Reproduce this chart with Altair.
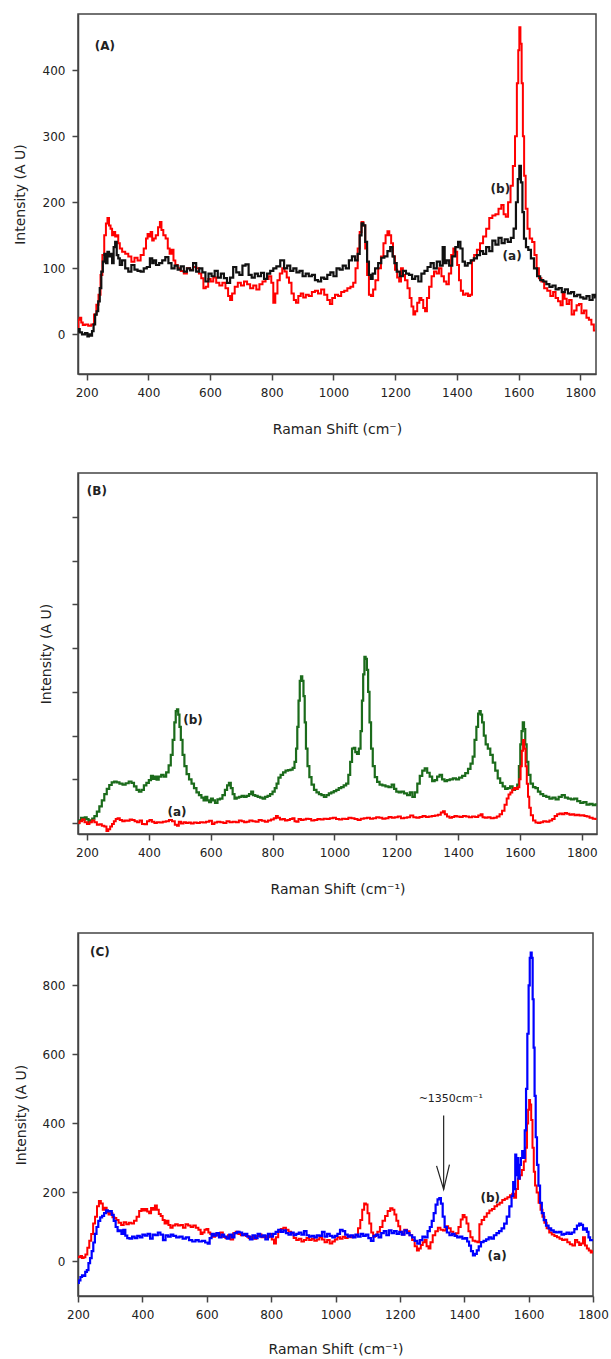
import altair as alt
import pandas as pd

FONT = "DejaVu Sans"

# ---------------- Panel A (Raman shift, intensity) ----------------
A_BLACK = [(172,5),(175,8),(180,3),(190,0),(200,2),(205,-3),(210,0),(215,-2),(220,5),(225,15),(230,30),(235,35),(240,50),(245,70),(250,95),(255,110),(260,122),(265,108),(270,125),(275,118),(280,122),(285,108),(290,132),(295,140),(300,120),(305,115),(310,105),(320,112),(330,100),(340,95),(350,105),(360,98),(370,96),(380,95),(390,100),(400,102),(410,115),(415,108),(420,112),(430,105),(440,108),(450,112),(460,117),(470,108),(480,100),(490,104),(500,98),(510,103),(520,95),(530,100),(540,97),(550,108),(560,95),(570,100),(580,94),(590,80),(600,92),(610,88),(620,96),(630,86),(640,92),(650,85),(660,78),(670,86),(680,102),(690,94),(700,90),(710,104),(720,106),(730,90),(740,86),(750,92),(760,88),(770,93),(780,84),(790,92),(800,96),(810,100),(820,103),(835,112),(845,100),(855,104),(865,96),(875,100),(885,94),(895,96),(905,88),(915,92),(925,88),(935,90),(945,82),(955,80),(965,86),(975,84),(985,90),(995,94),(1005,88),(1015,100),(1025,98),(1035,104),(1045,100),(1055,112),(1065,118),(1075,112),(1082,122),(1088,150),(1094,168),(1100,165),(1106,140),(1112,110),(1118,90),(1124,84),(1130,92),(1140,100),(1150,108),(1160,116),(1170,118),(1180,126),(1188,132),(1195,118),(1200,108),(1210,95),(1220,88),(1230,96),(1240,92),(1250,90),(1260,84),(1270,88),(1280,80),(1290,92),(1300,96),(1310,102),(1320,108),(1330,100),(1340,110),(1350,104),(1358,132),(1363,108),(1370,112),(1380,104),(1390,118),(1400,132),(1408,140),(1415,130),(1422,110),(1430,104),(1440,108),(1450,112),(1460,115),(1470,120),(1480,126),(1490,122),(1500,132),(1510,126),(1520,142),(1530,136),(1540,146),(1550,138),(1560,144),(1570,140),(1580,146),(1588,160),(1595,200),(1600,235),(1605,255),(1610,230),(1615,185),(1620,145),(1628,132),(1635,128),(1645,115),(1655,100),(1665,88),(1675,82),(1685,80),(1695,76),(1705,72),(1715,74),(1725,68),(1735,70),(1745,64),(1755,68),(1765,62),(1775,64),(1785,58),(1795,60),(1805,56),(1815,54),(1825,58),(1835,52),(1845,60),(1850,56)]

A_RED = [(172,10),(175,22),(180,25),(185,18),(190,14),(200,15),(210,13),(220,15),(228,30),(235,45),(242,60),(248,90),(254,120),(260,150),(265,168),(270,176),(275,165),(280,160),(285,150),(290,155),(295,148),(300,150),(305,138),(310,130),(320,125),(330,122),(340,118),(350,110),(360,116),(370,112),(380,120),(390,130),(395,145),(400,152),(405,148),(410,155),(415,142),(420,145),(428,150),(435,162),(440,170),(445,158),(452,150),(460,145),(466,130),(472,122),(478,128),(485,112),(490,105),(500,100),(510,96),(520,92),(530,100),(540,98),(550,102),(560,100),(568,92),(575,85),(582,70),(590,72),(598,84),(606,80),(615,86),(625,78),(635,74),(645,78),(655,70),(662,58),(668,52),(675,62),(685,72),(695,78),(705,74),(715,80),(725,76),(735,70),(745,74),(755,68),(765,76),(775,80),(785,84),(795,88),(802,78),(808,48),(815,62),(822,82),(830,92),(838,100),(845,95),(852,86),(860,78),(868,62),(875,52),(882,48),(890,58),(898,62),(906,56),(915,60),(925,58),(935,64),(945,66),(955,62),(965,68),(975,60),(985,52),(992,46),(1000,55),(1010,60),(1020,58),(1030,64),(1040,66),(1050,70),(1060,72),(1068,78),(1075,100),(1082,130),(1088,155),(1094,170),(1100,165),(1106,130),(1112,90),(1118,60),(1125,58),(1132,68),(1140,82),(1150,100),(1158,118),(1166,138),(1172,150),(1178,156),(1184,150),(1190,138),(1196,118),(1203,98),(1210,86),(1216,80),(1222,100),(1228,90),(1236,82),(1244,70),(1250,55),(1256,42),(1262,30),(1268,35),(1275,48),(1282,55),(1288,52),(1294,40),(1300,35),(1306,55),(1314,72),(1322,88),(1330,95),(1338,92),(1346,100),(1354,88),(1362,80),(1370,76),(1378,92),(1385,120),(1392,130),(1398,125),(1404,105),(1410,82),(1416,66),(1424,60),(1432,62),(1440,58),(1446,60),(1452,112),(1460,120),(1470,128),(1480,138),(1490,148),(1500,160),(1510,176),(1520,180),(1530,182),(1540,190),(1548,196),(1555,182),(1562,178),(1570,200),(1578,225),(1585,255),(1592,300),(1597,380),(1601,430),(1604,465),(1608,440),(1612,380),(1616,300),(1620,240),(1626,190),(1632,160),(1640,145),(1648,140),(1655,120),(1662,100),(1670,85),(1678,80),(1688,70),(1698,66),(1708,58),(1716,64),(1724,55),(1732,50),(1740,44),(1746,62),(1752,54),(1760,46),(1768,52),(1776,30),(1784,36),(1792,44),(1800,46),(1808,32),(1816,36),(1824,25),(1832,22),(1840,15),(1848,6)]

A_LABELS = ["(A)", "(b)", "(a)"]
A_LABEL_X = [259, 1541, 1579]
A_LABEL_Y = [436, 220, 119]

# ---------------- Panel B (arbitrary units, no tick labels) ----------------
B_GREEN = [(172,0),(178,60),(184,120),(190,80),(196,130),(202,90),(208,20),(214,60),(220,100),(228,160),(236,260),(244,380),(252,520),(260,660),(268,780),(276,870),(284,930),(292,950),(300,930),(310,900),(320,880),(330,910),(340,950),(348,920),(356,840),(364,760),(372,720),(380,760),(388,860),(396,920),(404,980),(410,1080),(416,1010),(422,1060),(428,990),(436,1060),(444,1100),(452,1060),(460,1160),(468,1320),(474,1560),(480,1900),(485,2300),(489,2560),(493,2600),(497,2480),(501,2200),(506,1900),(512,1560),(518,1300),(526,1120),(534,1000),(542,900),(550,800),(558,700),(566,640),(574,580),(580,520),(586,600),(592,520),(598,480),(604,560),(610,520),(618,460),(626,540),(634,560),(642,640),(650,760),(656,860),(662,920),(668,800),(674,660),(680,560),(688,580),(696,600),(704,620),(712,600),(720,620),(728,660),(734,720),(740,640),(748,620),(756,600),(764,580),(772,560),(780,600),(788,620),(796,660),(804,720),(810,800),(816,900),(822,1040),(830,1100),(838,1160),(846,1200),(854,1210),(862,1220),(868,1260),(874,1400),(878,1700),(882,2200),(886,2800),(890,3250),(894,3350),(898,3250),(902,2900),(906,2300),(910,1700),(916,1300),(922,1050),(930,880),(938,760),(946,700),(954,660),(962,640),(970,600),(978,640),(986,680),(994,700),(1002,730),(1010,760),(1018,800),(1026,820),(1034,860),(1042,900),(1048,1100),(1054,1400),(1060,1700),(1065,1720),(1070,1620),(1076,1580),(1082,1700),(1087,2100),(1091,2800),(1095,3400),(1099,3800),(1103,3750),(1107,3500),(1111,3000),(1116,2300),(1121,1700),(1127,1300),(1134,1050),(1142,940),(1150,880),(1160,860),(1170,840),(1180,820),(1190,880),(1196,780),(1204,720),(1212,700),(1220,720),(1230,680),(1240,640),(1248,700),(1256,600),(1264,700),(1272,900),(1280,1080),(1288,1200),(1296,1250),(1304,1150),(1312,1060),(1320,960),(1328,980),(1336,1060),(1344,1100),(1352,1000),(1360,960),(1368,980),(1378,1000),(1388,1020),(1398,1000),(1408,1040),(1418,1080),(1428,1140),(1436,1240),(1444,1360),(1450,1520),(1456,1900),(1462,2200),(1467,2500),(1471,2560),(1475,2480),(1480,2300),(1486,2000),(1492,1800),(1500,1700),(1508,1560),(1516,1380),(1524,1200),(1532,1020),(1540,920),(1548,840),(1556,780),(1564,800),(1572,840),(1580,760),(1588,780),(1594,880),(1599,1300),(1603,1800),(1607,2100),(1611,2300),(1615,2150),(1619,1800),(1624,1400),(1630,1100),(1638,900),(1646,820),(1654,800),(1662,720),(1670,660),(1680,620),(1690,600),(1700,560),(1710,580),(1720,540),(1730,600),(1740,640),(1750,580),(1760,560),(1770,540),(1780,560),(1790,500),(1800,460),(1810,480),(1820,420),(1830,440),(1840,410),(1848,430)]

B_RED = [(172,0),(180,40),(188,80),(196,20),(204,-20),(212,20),(220,60),(228,20),(236,-40),(244,-30),(252,-60),(260,-80),(266,-180),(272,-140),(278,-80),(284,-20),(290,40),(296,90),(302,110),(310,70),(318,40),(326,60),(334,50),(342,80),(350,70),(358,40),(366,20),(374,60),(382,-20),(390,-30),(398,40),(406,70),(414,30),(422,0),(430,20),(440,10),(450,30),(460,40),(470,70),(480,40),(488,-40),(494,-60),(500,30),(508,-10),(516,20),(524,0),(532,10),(540,-10),(550,10),(560,0),(570,20),(580,10),(590,30),(600,50),(608,-20),(616,10),(626,30),(636,20),(646,0),(656,40),(666,20),(676,30),(686,20),(696,60),(704,40),(712,20),(720,30),(730,60),(740,40),(750,30),(760,70),(770,50),(780,30),(790,60),(800,80),(808,110),(814,160),(820,120),(828,80),(836,90),(844,60),(852,70),(860,90),(868,110),(874,40),(880,30),(888,90),(896,70),(904,80),(912,100),(920,90),(930,60),(940,70),(950,90),(960,80),(970,100),(980,90),(990,110),(1000,120),(1010,90),(1020,80),(1030,100),(1040,90),(1050,120),(1060,110),(1070,90),(1080,70),(1090,100),(1100,110),(1110,120),(1120,100),(1130,110),(1140,130),(1150,120),(1160,100),(1170,110),(1180,140),(1190,120),(1200,130),(1210,150),(1220,110),(1230,120),(1240,130),(1250,170),(1260,130),(1270,120),(1280,140),(1290,160),(1300,140),(1310,150),(1320,160),(1330,170),(1340,190),(1348,240),(1354,270),(1360,200),(1368,150),(1376,120),(1384,140),(1392,160),(1400,150),(1410,140),(1420,160),(1430,150),(1440,130),(1450,150),(1460,140),(1470,170),(1476,200),(1482,130),(1490,120),(1500,130),(1510,110),(1520,120),(1530,150),(1538,200),(1546,280),(1554,420),(1560,560),(1566,650),(1572,700),(1578,760),(1584,800),(1590,780),(1596,820),(1600,1000),(1604,1300),(1608,1650),(1612,1900),(1616,1700),(1620,1300),(1624,900),(1628,600),(1632,350),(1638,180),(1646,60),(1654,10),(1662,0),(1670,20),(1680,40),(1690,30),(1700,60),(1708,90),(1716,160),(1724,200),(1732,220),(1740,200),(1748,230),(1756,210),(1764,190),(1772,200),(1780,180),(1788,190),(1796,170),(1804,180),(1812,160),(1820,150),(1830,120),(1840,100),(1848,90)]

B_LABELS = ["(B)", "(b)", "(a)"]
B_LABEL_X = [232, 543, 491]
B_LABEL_Y = [7600, 2350, 250]

# ---------------- Panel C ----------------
C_BLUE = [(200,-62),(205,-55),(210,-45),(215,-40),(220,-42),(225,-30),(230,-25),(235,-5),(240,10),(245,30),(250,55),(255,80),(260,100),(266,118),(272,128),(278,132),(284,140),(290,148),(296,145),(302,146),(308,135),(314,118),(320,100),(326,88),(332,90),(338,80),(344,92),(350,75),(356,68),(364,66),(372,72),(380,68),(388,74),(396,70),(404,78),(412,75),(420,80),(428,66),(436,78),(444,76),(452,84),(460,78),(468,62),(476,76),(484,72),(492,78),(500,74),(510,70),(520,72),(530,66),(540,70),(550,62),(560,58),(570,62),(580,58),(590,60),(600,55),(606,52),(612,68),(618,80),(626,75),(634,82),(642,70),(650,78),(658,72),(666,66),(674,78),(682,70),(690,82),(698,86),(706,84),(714,76),(722,80),(730,72),(738,64),(746,76),(754,68),(762,80),(770,72),(778,76),(786,64),(794,80),(802,72),(810,80),(818,86),(826,92),(834,86),(842,90),(850,82),(858,78),(866,84),(874,76),(882,80),(890,84),(898,78),(906,88),(914,76),(922,72),(930,74),(938,70),(946,76),(954,74),(962,86),(970,72),(978,80),(986,74),(994,70),(1002,74),(1010,80),(1018,92),(1026,88),(1034,78),(1042,72),(1050,76),(1058,70),(1066,78),(1074,72),(1082,80),(1090,74),(1098,78),(1106,68),(1114,60),(1122,74),(1130,78),(1138,70),(1146,82),(1154,88),(1162,76),(1170,90),(1178,82),(1186,88),(1194,80),(1202,86),(1210,78),(1218,90),(1226,82),(1234,76),(1242,70),(1250,60),(1258,52),(1266,62),(1274,72),(1282,70),(1290,88),(1296,100),(1302,118),(1308,140),(1314,165),(1320,180),(1325,184),(1330,168),(1336,130),(1342,100),(1350,84),(1358,76),(1366,80),(1374,74),(1382,70),(1390,72),(1398,66),(1406,68),(1412,58),(1418,46),(1424,30),(1430,18),(1436,22),(1442,32),(1448,44),(1456,56),(1464,60),(1472,64),(1480,70),(1488,66),(1496,76),(1504,82),(1512,88),(1520,96),(1528,110),(1536,130),(1544,160),(1550,190),(1554,230),(1557,210),(1560,310),(1563,250),(1566,300),(1570,240),(1574,280),(1578,300),(1582,320),(1586,300),(1590,380),(1594,500),(1598,660),(1602,800),(1605,880),(1608,895),(1611,880),(1614,760),(1617,620),(1620,480),(1624,360),(1628,280),(1633,220),(1638,170),(1644,140),(1650,120),(1658,104),(1666,96),(1674,90),(1682,86),(1690,84),(1698,86),(1706,78),(1714,80),(1722,84),(1730,80),(1738,84),(1746,94),(1754,104),(1760,110),(1766,106),(1772,92),(1778,96),(1784,86),(1788,70),(1794,62),(1800,62)]

C_RED = [(200,14),(205,12),(210,16),(215,10),(220,12),(226,20),(232,40),(238,60),(244,80),(250,110),(256,130),(262,160),(268,175),(274,168),(280,150),(286,156),(292,142),(298,136),(304,140),(310,128),(316,126),(322,120),(330,112),(338,106),(346,114),(354,108),(362,112),(370,110),(378,118),(386,130),(394,146),(400,152),(406,148),(412,152),(418,145),(424,140),(430,155),(436,150),(442,162),(448,150),(454,138),(460,132),(466,120),(472,110),(478,118),(484,106),(490,98),(498,104),(506,108),(514,104),(522,106),(530,98),(538,108),(546,104),(554,100),(562,104),(570,98),(578,92),(584,80),(590,84),(596,92),(602,94),(608,84),(614,80),(622,72),(630,80),(638,76),(646,84),(654,72),(662,68),(670,76),(678,64),(686,82),(694,86),(702,80),(710,76),(718,80),(726,74),(734,68),(742,72),(750,66),(758,74),(766,78),(774,70),(782,74),(790,70),(798,80),(806,64),(812,52),(818,70),(826,86),(834,94),(842,98),(850,92),(858,86),(866,82),(874,68),(882,62),(890,66),(898,58),(906,62),(914,68),(922,62),(930,66),(938,60),(946,64),(954,70),(962,64),(970,56),(978,62),(986,52),(994,58),(1002,64),(1010,70),(1018,66),(1026,72),(1034,68),(1042,74),(1050,70),(1058,72),(1066,76),(1074,96),(1080,120),(1086,150),(1092,168),(1097,165),(1102,140),(1108,110),(1114,84),(1120,72),(1126,76),(1134,86),(1142,100),(1150,118),(1158,132),(1166,146),(1174,154),(1180,150),(1186,136),(1192,118),(1198,102),(1204,86),(1210,78),(1218,92),(1226,88),(1234,76),(1242,62),(1250,44),(1256,32),(1262,38),(1268,48),(1274,56),(1280,62),(1286,44),(1292,38),(1298,56),(1306,76),(1314,88),(1322,98),(1330,92),(1338,90),(1346,102),(1354,96),(1362,86),(1370,78),(1378,82),(1386,100),(1392,122),(1398,135),(1404,128),(1410,110),(1416,88),(1422,70),(1430,60),(1438,58),(1444,56),(1450,108),(1458,120),(1466,130),(1474,140),(1482,148),(1490,152),(1498,160),(1506,165),(1514,170),(1522,178),(1530,182),(1538,186),(1546,192),(1552,196),(1558,185),(1564,210),(1570,240),(1576,250),(1582,265),(1588,290),(1593,330),(1597,400),(1600,440),(1603,468),(1606,455),(1610,410),(1614,330),(1618,260),(1622,220),(1628,200),(1634,170),(1640,150),(1646,130),(1652,112),(1660,96),(1668,84),(1676,78),(1684,74),(1692,70),(1700,66),(1708,62),(1716,64),(1724,56),(1732,50),(1740,46),(1748,62),(1754,56),(1760,48),(1766,52),(1772,70),(1778,46),(1784,38),(1790,32),(1796,26),(1800,30)]

C_LABELS = ["(C)", "(b)", "(a)"]
C_LABEL_X = [268, 1481, 1502]
C_LABEL_Y = [896, 185, 17]

C_NOTE = "~1350cm\u207b\u00b9"
C_NOTE_X = 1358
C_NOTE_Y = 470
# arrow: shaft and open V head (data units)
ARROW_SEG = ["shaft", "shaft", "head", "head", "head"]
ARROW_ORD = [0, 1, 0, 1, 2]
ARROW_X = [1336, 1336, 1314, 1336, 1354]
ARROW_Y = [423, 209, 277, 209, 281]

X_TICKS = [200, 400, 600, 800, 1000, 1200, 1400, 1600, 1800]


def df_from(pairs):
    return pd.DataFrame({"shift": [p[0] for p in pairs], "intensity": [p[1] for p in pairs]})


def enc_x(domain, title, title_y):
    return alt.X("shift:Q", scale=alt.Scale(domain=domain, nice=False, zero=False),
                 axis=alt.Axis(title=title, values=X_TICKS, format="d",
                               titleY=title_y, titleBaseline="middle"))


def enc_y(domain, ticks, labels, title_x):
    return alt.Y("intensity:Q", scale=alt.Scale(domain=domain, nice=False, zero=False),
                 axis=alt.Axis(title="Intensity (A U)", values=ticks, labels=labels, format="d",
                               titleX=title_x, titleBaseline="middle"))


def line(pairs, color, xe, ye, width=2.0):
    return alt.Chart(df_from(pairs)).mark_line(color=color, strokeWidth=width, clip=True,
                                               interpolate="step").encode(x=xe, y=ye)


def labels(texts, xs, ys, xe, ye):
    d = pd.DataFrame({"shift": xs, "intensity": ys, "label": texts})
    return alt.Chart(d).mark_text(font=FONT, fontSize=12, fontWeight="bold", color="#222",
                                  align="center", baseline="middle").encode(x=xe, y=ye, text="label:N")


# Panel A
xa = enc_x([172, 1851], "Raman Shift (cm\u207b)", 55)
ya = enc_y([-60, 485], [0, 100, 200, 300, 400], True, -58)
panel_a = alt.layer(
    line(A_RED, "#FF0000", xa, ya, 2.0),
    line(A_BLACK, "#111111", xa, ya, 2.2),
    labels(A_LABELS, A_LABEL_X, A_LABEL_Y, xa, ya),
).properties(width=518, height=360)

# Panel B
xb = enc_x([171, 1849], "Raman Shift (cm\u207b\u00b9)", 55)
yb = enc_y([-250, 8000], [0, 1000, 2000, 3000, 4000, 5000, 6000, 7000], False, -32)
panel_b = alt.layer(
    line(B_GREEN, "#1B6B1B", xb, yb, 2.2),
    line(B_RED, "#FF0000", xb, yb, 2.0),
    labels(B_LABELS, B_LABEL_X, B_LABEL_Y, xb, yb),
).properties(width=519, height=361)

# Panel C
xc = enc_x([200, 1800], "Raman Shift (cm\u207b\u00b9)", 53)
yc = enc_y([-100, 952], [0, 200, 400, 600, 800], True, -57)
arrow_df = pd.DataFrame({"shift": ARROW_X, "intensity": ARROW_Y, "seg": ARROW_SEG, "ord": ARROW_ORD})
note_df = pd.DataFrame({"shift": [C_NOTE_X], "intensity": [C_NOTE_Y], "label": [C_NOTE]})
panel_c = alt.layer(
    line(C_RED, "#FF0000", xc, yc, 2.0),
    line(C_BLUE, "#0000FF", xc, yc, 2.2),
    labels(C_LABELS, C_LABEL_X, C_LABEL_Y, xc, yc),
    alt.Chart(arrow_df).mark_line(color="#222", strokeWidth=1.2).encode(
        x=xc, y=yc, detail="seg:N", order="ord:Q"),
    alt.Chart(note_df).mark_text(font=FONT, fontSize=11, color="#222", align="center",
                                 baseline="middle").encode(x=xc, y=yc, text="label:N"),
).properties(width=515, height=363)

chart = alt.vconcat(panel_a, panel_b, panel_c, spacing=99, bounds="flush").resolve_scale(
    x="independent", y="independent"
).properties(
    padding={"left": 12, "top": 13, "right": 0, "bottom": 0}
).configure_view(
    stroke="#444", strokeWidth=1.5
).configure_axis(
    labelFont=FONT, titleFont=FONT, labelFontSize=12, titleFontSize=14,
    titleFontWeight="normal", labelColor="#222", titleColor="#222",
    domainColor="#444", domainWidth=1.5, tickColor="#444", tickWidth=1.5, tickSize=6,
    labelPadding=7, grid=False, labelFlush=False
)

chart.save("out.html", embed_options={"renderer": "svg", "actions": False})
